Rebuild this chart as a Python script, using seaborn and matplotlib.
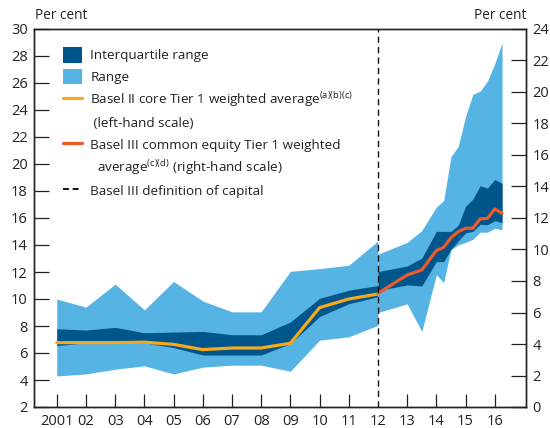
import numpy as np
import matplotlib
matplotlib.use("Agg")
import matplotlib.pyplot as plt
from matplotlib.patches import Patch
from matplotlib.lines import Line2D
import seaborn as sns

# ---------------------------------------------------------------------------
# Data
# ---------------------------------------------------------------------------
# Basel II core Tier 1 (left-hand scale), annual 2001-2012
years_b2 = [2001, 2002, 2003, 2004, 2005, 2006, 2007, 2008, 2009, 2010, 2011, 2012]
b2_range_hi = [10.0, 9.4, 11.1, 9.2, 11.3, 9.85, 9.05, 9.05, 12.05, 12.25, 12.5, 14.3]
b2_iqr_hi = [7.8, 7.7, 7.9, 7.5, 7.55, 7.6, 7.35, 7.35, 8.3, 10.05, 10.65, 11.0]
b2_avg = [6.77, 6.77, 6.77, 6.8, 6.64, 6.25, 6.37, 6.37, 6.72, 9.36, 10.0, 10.37]
b2_iqr_lo = [6.55, 6.75, 6.75, 6.75, 6.4, 5.85, 5.85, 5.85, 6.7, 8.7, 9.65, 10.17]
b2_range_lo = [4.3, 4.45, 4.8, 5.05, 4.45, 4.95, 5.1, 5.1, 4.65, 6.95, 7.2, 8.05]

# Basel III common equity Tier 1 (right-hand scale), 2012 onwards
years_b3 = [2012.0, 2013.0, 2013.5, 2014.0, 2014.25, 2014.5, 2014.75,
            2015.0, 2015.25, 2015.5, 2015.75, 2016.0, 2016.25]
b3_range_hi = [9.7, 10.45, 11.2, 12.7, 13.1, 15.9, 16.55, 18.45, 19.85, 20.05, 20.7, 21.8, 23.1]
b3_iqr_hi = [8.6, 8.95, 9.45, 11.15, 11.15, 11.15, 11.55, 12.75, 13.2, 14.05, 13.9, 14.45, 14.2]
b3_avg = [7.22, 8.38, 8.7, 9.93, 10.14, 10.75, 11.13, 11.35, 11.35, 11.94, 11.98, 12.57, 12.3]
b3_iqr_lo = [7.4, 7.75, 7.68, 9.23, 9.23, 10.0, 10.55, 11.05, 11.15, 11.6, 11.57, 11.83, 11.7]
b3_range_lo = [6.0, 6.55, 4.8, 8.4, 7.9, 10.0, 10.3, 10.45, 10.65, 11.1, 11.1, 11.35, 11.25]

tick_years = list(range(2001, 2017))
tick_labels = ["2001"] + [f"{y % 100:02d}" for y in tick_years[1:]]

# ---------------------------------------------------------------------------
# Style
# ---------------------------------------------------------------------------
sns.set_theme(style="ticks")
plt.rcParams["font.family"] = ["Open Sans", "DejaVu Sans"]
plt.rcParams["mathtext.fontset"] = "custom"
plt.rcParams["mathtext.rm"] = "Open Sans"
plt.rcParams["mathtext.it"] = "Open Sans:italic"
plt.rcParams["axes.edgecolor"] = "#222222"

DARK = "#00558a"
LIGHT = "#56b4e5"
YELLOW = "#f7a81b"
ORANGE = "#ee5a28"

fig = plt.figure(figsize=(5.5, 4.28), dpi=100)
ax = fig.add_axes([34 / 550, 1 - 407 / 428, 492 / 550, 378 / 428])
ax2 = ax.twinx()

# left-hand scale: Basel II
ax.fill_between(years_b2, b2_range_lo, b2_range_hi, color=LIGHT, lw=0)
ax.fill_between(years_b2, b2_iqr_lo, b2_iqr_hi, color=DARK, lw=0)
sns.lineplot(x=years_b2, y=b2_avg, ax=ax, color=YELLOW, lw=2.3)

# right-hand scale: Basel III
ax2.fill_between(years_b3, b3_range_lo, b3_range_hi, color=LIGHT, lw=0)
ax2.fill_between(years_b3, b3_iqr_lo, b3_iqr_hi, color=DARK, lw=0)
sns.lineplot(x=years_b3, y=b3_avg, ax=ax2, color=ORANGE, lw=2.3)
ax2.axvline(2012, color="#111111", lw=1.0, ls=(0, (4.5, 3)))

ax.set_xlim(2000.22, 2017.07)
ax.set_ylim(2, 30)
ax2.set_ylim(0, 24)
ax.set_yticks(np.arange(2, 31, 2))
ax2.set_yticks(np.arange(0, 25, 2))
ax.set_xticks(tick_years)
ax.set_xticklabels(tick_labels)
ax.xaxis.get_major_ticks()[11].tick1line.set_visible(False)

for a in (ax, ax2):
    a.set_xlabel("")
    a.set_ylabel("")
    for s in a.spines.values():
        s.set_linewidth(1.0)
        s.set_color("#222222")

ax.tick_params(axis="y", direction="in", length=11, width=0.9, pad=4.5,
               labelsize=10.5, left=True, right=False, colors="#222222")
ax.tick_params(axis="x", direction="in", length=9.5, width=0.9, pad=5,
               labelsize=10.5, colors="#222222")
ax2.tick_params(axis="y", direction="in", length=11, width=0.9, pad=4.5,
                labelsize=10.5, left=False, right=True, colors="#222222")

ax.text(0.002, 1.026, "Per cent", transform=ax.transAxes, ha="left",
        va="baseline", fontsize=9.8, color="#222222")
ax.text(1.0, 1.026, "Per cent", transform=ax.transAxes, ha="right",
        va="baseline", fontsize=9.8, color="#222222")

# legend
blank = Line2D([], [], color="none")
handles = [
    Patch(facecolor=DARK, lw=0),
    Patch(facecolor=LIGHT, lw=0),
    Line2D([], [], color=YELLOW, lw=2.3),
    blank,
    Line2D([], [], color=ORANGE, lw=2.3),
    blank,
    Line2D([], [], color="#111111", lw=1.4, ls=(0, (3, 2))),
]
labels = [
    "Interquartile range",
    "Range",
    r"Basel II core Tier 1 weighted average$^{\mathrm{(a)(b)(c)}}$",
    " (left-hand scale)",
    "Basel III common equity Tier 1 weighted",
    r"  average$^{\mathrm{(c)(d)}}$ (right-hand scale)",
    "Basel III definition of capital",
]
ax2.legend(handles, labels, loc="upper left", bbox_to_anchor=(0.0596, 0.952),
           frameon=False, fontsize=9.7, handlelength=1.4, handleheight=1.4,
           handletextpad=0.6, labelspacing=0.44, borderpad=0, borderaxespad=0,
           labelcolor="#222222")

fig.savefig("out.png", dpi=100)
